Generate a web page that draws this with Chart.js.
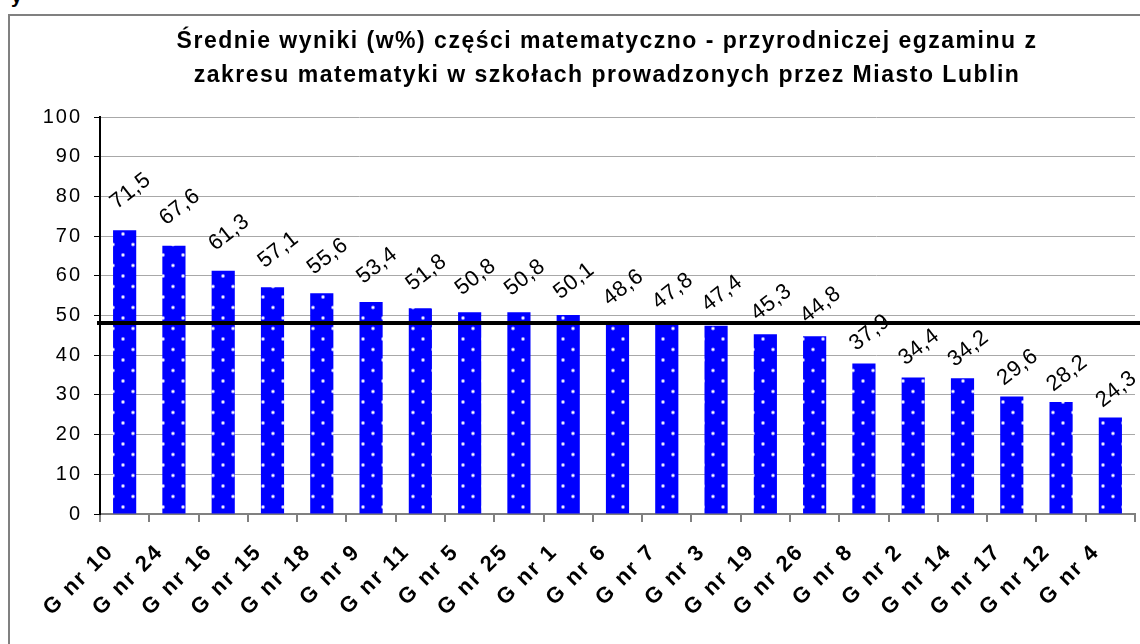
<!DOCTYPE html>
<html>
<head>
<meta charset="utf-8">
<script src="https://cdn.jsdelivr.net/npm/chart.js@4.4.0/dist/chart.umd.min.js"></script>
<style>
  html, body { margin: 0; padding: 0; background: #fff; overflow: hidden; }
  #wrap { position: relative; width: 1140px; height: 644px; overflow: hidden; }
  #frame { position: absolute; left: 8px; top: 14px; right: -4px; bottom: -4px;
           border-left: 2px solid #808080; border-top: 2px solid #808080; }
  #cut { position: absolute; left: 11px; top: -15px; font: bold 20px Arial, "Liberation Sans", sans-serif; }
  canvas { position: absolute; left: 0; top: 0; }
</style>
</head>
<body>
<div id="wrap">
  <div id="frame"></div>
  <div id="cut">y</div>
  <canvas id="myChart" width="1140" height="644"></canvas>
</div>
<script>
const categories = ['G nr 10', 'G nr 24', 'G nr 16', 'G nr 15', 'G nr 18', 'G nr 9', 'G nr 11',
  'G nr 5', 'G nr 25', 'G nr 1', 'G nr 6', 'G nr 7', 'G nr 3', 'G nr 19', 'G nr 26', 'G nr 8',
  'G nr 2', 'G nr 14', 'G nr 17', 'G nr 12', 'G nr 4'];
const values = [71.5, 67.6, 61.3, 57.1, 55.6, 53.4, 51.8, 50.8, 50.8, 50.1, 48.6, 47.8, 47.4,
  45.3, 44.8, 37.9, 34.4, 34.2, 29.6, 28.2, 24.3];
const average = 48.1;
const yMin = 0, yMax = 100, yStep = 10;
const titleLines = [
  'Średnie wyniki (w%) części matematyczno - przyrodniczej egzaminu z',
  'zakresu matematyki w szkołach prowadzonych przez Miasto Lublin'
];

// blue fill with small white dots
function dotPattern() {
  const c = document.createElement('canvas');
  c.width = 20; c.height = 21;
  const g = c.getContext('2d');
  g.fillStyle = '#0000ff';
  g.fillRect(0, 0, 20, 21);
  g.fillStyle = 'rgba(255,255,255,0.6)';
  g.beginPath(); g.arc(3, 3, 1.9, 0, Math.PI * 2); g.arc(13, 13.5, 1.9, 0, Math.PI * 2); g.fill();
  g.fillStyle = '#ffffff';
  g.beginPath(); g.arc(3, 3, 1.1, 0, Math.PI * 2); g.arc(13, 13.5, 1.1, 0, Math.PI * 2); g.fill();
  return g.createPattern(c, 'repeat');
}

const spacing = {
  id: 'spacing',
  beforeDraw(chart) { chart.ctx.letterSpacing = '2px'; }
};

const titleDraw = {
  id: 'titleDraw',
  afterDraw(chart) {
    const ctx = chart.ctx;
    ctx.save();
    ctx.letterSpacing = '1.5px';
    ctx.font = 'bold 23px Arial, "Liberation Sans", sans-serif';
    ctx.fillStyle = '#000';
    ctx.textAlign = 'center';
    ctx.textBaseline = 'alphabetic';
    ctx.fillText(titleLines[0], 607, 48);
    ctx.fillText(titleLines[1], 607, 82);
    ctx.restore();
  }
};

const avgLine = {
  id: 'avgLine',
  afterDatasetsDraw(chart) {
    const ctx = chart.ctx;
    const y = chart.scales.y.getPixelForValue(average);
    ctx.save();
    ctx.strokeStyle = '#000';
    ctx.lineWidth = 4;
    ctx.beginPath();
    ctx.moveTo(chart.chartArea.left - 3, y);
    ctx.lineTo(chart.width, y);
    ctx.stroke();
    ctx.restore();
  }
};

const valueLabels = {
  id: 'valueLabels',
  afterDatasetsDraw(chart) {
    const ctx = chart.ctx;
    const meta = chart.getDatasetMeta(0);
    ctx.save();
    ctx.letterSpacing = '0.5px';
    ctx.font = '22px Arial, "Liberation Sans", sans-serif';
    ctx.fillStyle = '#000';
    ctx.textAlign = 'center';
    ctx.textBaseline = 'middle';
    meta.data.forEach((bar, i) => {
      const lift = 39 - 11 * i / (values.length - 1);
      ctx.save();
      ctx.translate(bar.x + 6, bar.y - lift);
      ctx.rotate(-38 * Math.PI / 180);
      ctx.fillText(values[i].toFixed(1).replace('.', ','), 0, 0);
      ctx.restore();
    });
    ctx.restore();
  }
};

new Chart(document.getElementById('myChart'), {
  type: 'bar',
  data: {
    labels: categories,
    datasets: [{
      data: values,
      backgroundColor: dotPattern(),
      borderWidth: 0,
      categoryPercentage: 1,
      barPercentage: 0.47
    }]
  },
  options: {
    responsive: false,
    animation: false,
    events: [],
    layout: { padding: { left: 0, right: 5, top: 117, bottom: 0 } },
    plugins: { legend: { display: false }, title: { display: false }, tooltip: { enabled: false } },
    scales: {
      x: {
        afterFit(s) { s.height = 130; s.paddingLeft = 0; s.paddingRight = 0; },
        border: { color: '#808080', width: 2 },
        grid: { drawOnChartArea: false, color: '#808080', tickLength: 8, lineWidth: 2 },
        ticks: {
          color: '#000', minRotation: 45, maxRotation: 45, autoSkip: false,
          padding: 17, labelOffset: -14,
          font: { family: 'Arial, "Liberation Sans", sans-serif', size: 22, weight: 'bold' }
        }
      },
      y: {
        min: yMin, max: yMax,
        afterFit(s) { s.width = 100; },
        border: { color: '#000', width: 2 },
        grid: { color: '#a8a8a8', borderDash: [2, 2], tickColor: '#000', tickBorderDash: [], tickLength: 6, lineWidth: 1 },
        ticks: {
          stepSize: yStep, color: '#000', padding: 12,
          font: { family: 'Arial, "Liberation Sans", sans-serif', size: 20 }
        }
      }
    }
  },
  plugins: [spacing, avgLine, valueLabels, titleDraw]
});
</script>
</body>
</html>
